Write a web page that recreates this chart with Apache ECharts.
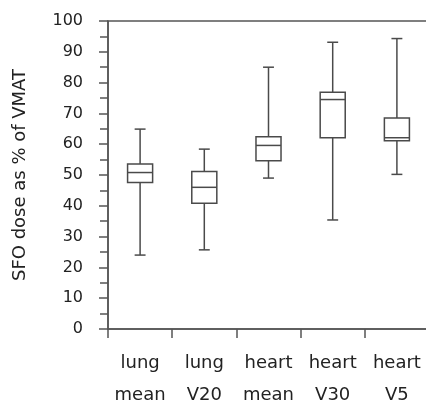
<!DOCTYPE html>
<html>
<head>
<meta charset="utf-8">
<script src="https://cdn.jsdelivr.net/npm/echarts@6/dist/echarts.min.js"></script>
<style>html,body{margin:0;padding:0;background:#fff;}#c{width:426px;height:406px;}</style>
</head>
<body>
<div id="c"></div>
<script>
var categories = ['lung\nmean', 'lung\nV20', 'heart\nmean', 'heart\nV30', 'heart\nV5'];
var whiskerLow = [24.0, 25.7, 49.0, 35.4, 50.2];
var q1 = [47.6, 40.8, 54.6, 62.1, 61.1];
var median = [50.8, 46.0, 59.6, 74.5, 62.1];
var q3 = [53.6, 51.1, 62.4, 76.9, 68.5];
var whiskerHigh = [64.9, 58.4, 85.0, 93.1, 94.3];
var yTicks = [0, 10, 20, 30, 40, 50, 60, 70, 80, 90, 100];

var data = categories.map(function (c, i) {
  return [i, whiskerLow[i], q1[i], median[i], q3[i], whiskerHigh[i]];
});

var lineColor = '#4a4a4a';
var textColor = '#222';
var chart = echarts.init(document.getElementById('c'));
chart.setOption({
  animation: false,
  grid: { left: 108, top: 21, right: -3, bottom: 77, show: true, borderColor: '#555', borderWidth: 1.5, containLabel: false, outerBoundsMode: 'none' },
  xAxis: {
    type: 'category',
    data: categories,
    boundaryGap: true,
    axisLine: { lineStyle: { color: '#555', width: 1.5 } },
    axisTick: { show: true, length: 9, interval: 0, lineStyle: { color: '#555', width: 1.5 } },
    axisLabel: { interval: 0, fontFamily: 'DejaVu Sans', fontSize: 18, color: textColor, lineHeight: 32, margin: 18 }
  },
  yAxis: {
    type: 'value',
    min: yTicks[0], max: yTicks[yTicks.length - 1], interval: 10,
    name: 'SFO dose as % of VMAT',
    nameLocation: 'middle',
    nameGap: 79,
    nameTextStyle: { fontFamily: 'DejaVu Sans', fontSize: 18, color: textColor },
    axisLine: { show: true, lineStyle: { color: '#555', width: 1.5 } },
    axisTick: { show: true, length: 9, lineStyle: { color: '#555', width: 1.5 } },
    minorTick: { show: true, splitNumber: 2, length: 8, lineStyle: { color: '#555', width: 1.5 } },
    splitLine: { show: false },
    axisLabel: { fontFamily: 'DejaVu Sans', fontSize: 16, color: textColor, margin: 25 }
  },
  series: [{
    type: 'custom',
    data: data,
    encode: { x: 0, y: [1, 2, 3, 4, 5] },
    renderItem: function (params, api) {
      var i = api.value(0);
      var band = api.size([1, 0])[0];
      var bw = band * 0.39 / 2;
      var cw = band * 0.17 / 2;
      var pLow = api.coord([i, api.value(1)]);
      var pQ1 = api.coord([i, api.value(2)]);
      var pMed = api.coord([i, api.value(3)]);
      var pQ3 = api.coord([i, api.value(4)]);
      var pHigh = api.coord([i, api.value(5)]);
      var x = pMed[0];
      var st = { stroke: lineColor, lineWidth: 1.5, fill: null };
      return {
        type: 'group',
        children: [
          { type: 'line', shape: { x1: x, y1: pHigh[1], x2: x, y2: pQ3[1] }, style: st },
          { type: 'line', shape: { x1: x, y1: pQ1[1], x2: x, y2: pLow[1] }, style: st },
          { type: 'line', shape: { x1: x - cw, y1: pHigh[1], x2: x + cw, y2: pHigh[1] }, style: st },
          { type: 'line', shape: { x1: x - cw, y1: pLow[1], x2: x + cw, y2: pLow[1] }, style: st },
          { type: 'rect', shape: { x: x - bw, y: pQ3[1], width: bw * 2, height: pQ1[1] - pQ3[1] }, style: { stroke: lineColor, lineWidth: 1.5, fill: '#fff' } },
          { type: 'line', shape: { x1: x - bw, y1: pMed[1], x2: x + bw, y2: pMed[1] }, style: st }
        ]
      };
    }
  }]
});
</script>
</body>
</html>
